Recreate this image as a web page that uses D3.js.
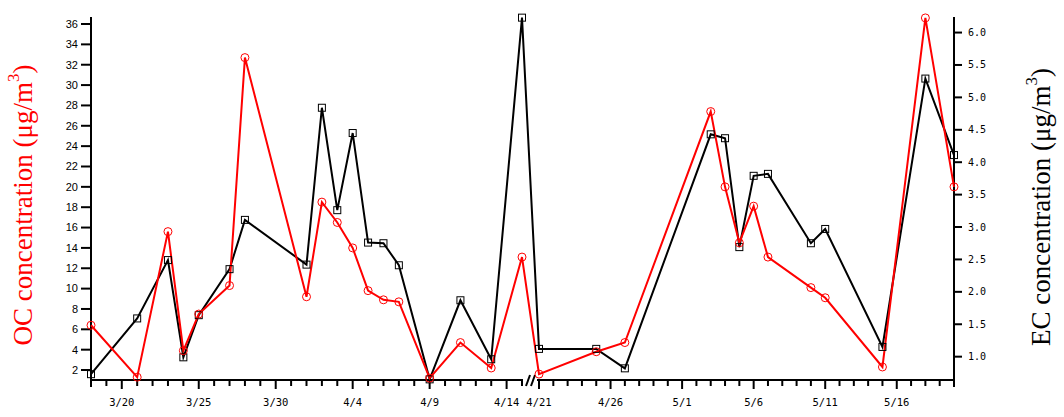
<!DOCTYPE html>
<html><head><meta charset="utf-8">
<script src="https://cdn.jsdelivr.net/npm/d3@7"></script>
<style>body{margin:0;background:#fff}svg{display:block}</style>
</head><body>
<svg id="c" width="1064" height="417"></svg>
<script>
const dates = ["2000-03-18","2000-03-21","2000-03-23","2000-03-24","2000-03-25","2000-03-27","2000-03-28","2000-04-01","2000-04-02","2000-04-03","2000-04-04","2000-04-05","2000-04-06","2000-04-07","2000-04-09","2000-04-11","2000-04-13","2000-04-15","2000-04-21","2000-04-25","2000-04-27","2000-05-03","2000-05-04","2000-05-05","2000-05-06","2000-05-07","2000-05-10","2000-05-11","2000-05-15","2000-05-18","2000-05-20"];
const ocValues = [6.4,1.3,15.6,3.9,7.5,10.3,32.7,9.2,18.5,16.5,14.0,9.8,8.9,8.7,1.2,4.7,2.2,13.1,1.6,3.8,4.7,27.4,20.0,14.5,18.1,13.1,10.1,9.1,2.3,36.6,20.0];
const ecValues = [0.73,1.59,2.49,0.99,1.64,2.35,3.11,2.42,4.84,3.26,4.45,2.76,2.75,2.41,0.65,1.87,0.96,6.23,1.12,1.12,0.82,4.43,4.37,2.69,3.79,3.82,2.75,2.97,1.15,5.29,4.11];
const ocTicks = [2,4,6,8,10,12,14,16,18,20,22,24,26,28,30,32,34,36];
const ecTicks = [1.0,1.5,2.0,2.5,3.0,3.5,4.0,4.5,5.0,5.5,6.0];
const xMajorLabels = ["3/20","3/25","3/30","4/4","4/9","4/14","4/21","4/26","5/1","5/6","5/11","5/16"];
const segments = [["2000-03-18","2000-04-15"],["2000-04-21","2000-05-20"]];

const parse = d3.timeParse("%Y-%m-%d");
const svg = d3.select("#c");
const x = d3.scaleTime()
  .domain([parse(segments[0][0]), parse(segments[0][1]), parse(segments[1][0]), parse(segments[1][1])])
  .range([91, 522, 539, 954]);
const yL = d3.scaleLinear().domain([1.02, 36.69]).range([380, 17]);
const yR = d3.scaleLinear().domain([0.64, 6.24]).range([380, 17]);

const axisY = 380, leftX = 91, rightX = 954;

// axis lines
const g = svg.append("g").attr("stroke","#000").attr("stroke-width",2).attr("fill","none");
g.append("line").attr("x1",leftX).attr("x2",leftX).attr("y1",17).attr("y2",387);
g.append("line").attr("x1",rightX).attr("x2",rightX).attr("y1",17).attr("y2",387);
g.append("line").attr("x1",leftX).attr("x2",523).attr("y1",axisY).attr("y2",axisY);
g.append("line").attr("x1",537).attr("x2",rightX).attr("y1",axisY).attr("y2",axisY);
// break marks
[0,5].forEach(o=>{
  g.append("line").attr("x1",526+o).attr("y1",386).attr("x2",530+o).attr("y2",375);
});

// left ticks
ocTicks.forEach(v=>{
  g.append("line").attr("x1",leftX-10).attr("x2",leftX).attr("y1",yL(v)).attr("y2",yL(v));
  svg.append("text").attr("x",78).attr("y",yL(v)).attr("dy","0.35em").attr("text-anchor","end")
    .attr("font-family","Liberation Sans, Arial, sans-serif").attr("font-size",11).text(v);
});
// right ticks
ecTicks.forEach(v=>{
  g.append("line").attr("x1",rightX).attr("x2",rightX+8).attr("y1",yR(v)).attr("y2",yR(v));
  svg.append("text").attr("x",968).attr("y",yR(v)).attr("dy","0.35em").attr("text-anchor","start")
    .attr("font-family","DejaVu Sans Mono, monospace").attr("font-size",10).text(v.toFixed(1));
});
// x ticks
const fmt = d => (d.getMonth()+1)+"/"+d.getDate();
segments.forEach((s,si)=>{
  const days = d3.timeDay.range(parse(s[0]), d3.timeDay.offset(parse(s[1]),1));
  days.forEach(d=>{
    const lab = fmt(d);
    const major = xMajorLabels.includes(lab);
    g.append("line").attr("x1",x(d)).attr("x2",x(d)).attr("y1",axisY).attr("y2",axisY+(major?9:6));
    if (major) svg.append("text").attr("x",x(d)).attr("y",406).attr("text-anchor","middle")
      .attr("font-family","DejaVu Sans Mono, monospace").attr("font-size",10.5).text(lab);
  });
});

const pts = dates.map((d,i)=>({d:parse(d), oc:ocValues[i], ec:ecValues[i]}));

// EC line
svg.append("path").datum(pts).attr("fill","none").attr("stroke","#000").attr("stroke-width",2)
  .attr("d", d3.line().x(p=>x(p.d)).y(p=>yR(p.ec)));
// OC line
svg.append("path").datum(pts).attr("fill","none").attr("stroke","#ff0000").attr("stroke-width",2)
  .attr("d", d3.line().x(p=>x(p.d)).y(p=>yL(p.oc)));
// markers
svg.selectAll("rect.ec").data(pts).join("rect").attr("class","ec")
  .attr("x",p=>x(p.d)-3.5).attr("y",p=>yR(p.ec)-3.5).attr("width",7).attr("height",7)
  .attr("fill","none").attr("stroke","#000").attr("stroke-width",1);
svg.selectAll("circle.oc").data(pts).join("circle").attr("class","oc")
  .attr("cx",p=>x(p.d)).attr("cy",p=>yL(p.oc)).attr("r",4)
  .attr("fill","none").attr("stroke","#ff0000").attr("stroke-width",1);

// titles
function title(tx, ty, label, color){
  const t = svg.append("text").attr("transform",`translate(${tx},${ty}) rotate(-90)`)
    .attr("text-anchor","middle").attr("dominant-baseline","central")
    .attr("font-family","Liberation Serif, Times New Roman, serif").attr("font-size",27).attr("fill",color);
  t.append("tspan").text(label + " concentration (μg/m");
  t.append("tspan").attr("font-size",17).attr("dy",-10).text("3");
  t.append("tspan").attr("dy",10).text(")");
}
title(23, 205, "OC", "#ff0000");
title(1041, 207, "EC", "#000");
</script>
</body></html>
